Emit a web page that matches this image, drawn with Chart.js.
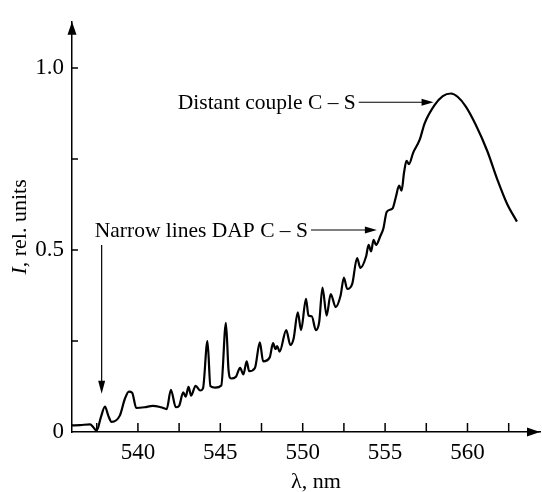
<!DOCTYPE html>
<html>
<head>
<meta charset="utf-8">
<script src="https://cdn.jsdelivr.net/npm/chart.js@4.4.1/dist/chart.umd.min.js"></script>
<style>
  html, body { margin: 0; background: #fff; }
</style>
</head>
<body>
<canvas id="spectrum" width="542" height="492"></canvas>
<script>
// spectrum: wavelength (nm) and intensity (rel. units)
const wavelength = [
  536.0, 536.5, 537.1, 537.5, 537.75, 538.0, 538.2, 538.4, 538.9, 539.2,
  539.45, 539.65, 539.9, 540.4, 540.9, 541.4, 541.75, 542.0, 542.3, 542.5,
  542.75, 542.9, 543.07, 543.23, 543.5, 543.78, 543.95, 544.22, 544.4, 544.7,
  545.06, 545.34, 545.5, 545.65, 545.95, 546.2, 546.4, 546.6, 546.75, 547.1,
  547.4, 547.6, 548.0, 548.2, 548.35, 548.45, 548.6, 549.0, 549.25, 549.45,
  549.7, 549.9, 550.2, 550.35, 550.55, 550.8, 551.0, 551.2, 551.45, 551.7,
  552.0, 552.3, 552.5, 552.7, 553.0, 553.3, 553.5, 553.85, 554.0, 554.15,
  554.3, 554.45, 554.7, 554.9, 555.1, 555.45, 555.65, 555.85, 556.0, 556.15,
  556.3, 556.45, 556.7, 557.1, 557.4, 558.0, 558.5, 559.0, 559.4, 559.9,
  560.5, 561.2, 561.8, 562.4, 563.0,
]
const intensity = [
  0.018, 0.019, 0.021, 0.004, 0.04, 0.07, 0.045, 0.028, 0.045, 0.09,
  0.111, 0.108, 0.066, 0.068, 0.072, 0.068, 0.063, 0.116, 0.068, 0.072,
  0.109, 0.097, 0.124, 0.1, 0.127, 0.114, 0.12, 0.25, 0.126, 0.122,
  0.128, 0.3, 0.17, 0.147, 0.152, 0.176, 0.158, 0.194, 0.167, 0.176,
  0.246, 0.194, 0.205, 0.244, 0.228, 0.236, 0.221, 0.28, 0.239, 0.257,
  0.329, 0.28, 0.366, 0.32, 0.318, 0.28, 0.302, 0.397, 0.32, 0.379,
  0.343, 0.375, 0.424, 0.393, 0.406, 0.478, 0.451, 0.483, 0.514, 0.496,
  0.528, 0.514, 0.537, 0.56, 0.605, 0.614, 0.645, 0.677, 0.663, 0.713,
  0.745, 0.736, 0.767, 0.803, 0.848, 0.898, 0.923, 0.93, 0.921, 0.894,
  0.844, 0.772, 0.695, 0.627, 0.578,
]

const xTicks = [537.5, 540, 542.5, 545, 547.5, 550, 552.5, 555, 557.5, 560, 562.5]
const yTicks = [0, 0.25, 0.5, 0.75, 1.0]
const yLabels = { 0: '0', 0.5: '0.5', 1: '1.0' }

// labelled arrows: text, arrow start (nm), arrow tip (nm), level (rel. units)
const noteText = ['Distant couple C \u2013 S', 'Narrow lines DAP C \u2013 S']
const noteFrom = [553.4, 550.5]
const noteTo = [557.94, 554.5]
const noteLevel = [0.906, 0.555]
// the downward arrow at the first narrow line
const dropAt = 537.8
const dropFrom = 0.514
const dropTo = 0.105

const serif = '"Liberation Serif", "DejaVu Serif", serif'

function head(ctx, tx, ty, dx, dy, len, half) {
  const bx = tx - dx * len
  const by = ty - dy * len
  ctx.beginPath()
  ctx.moveTo(tx, ty)
  ctx.lineTo(bx - dy * half, by + dx * half)
  ctx.lineTo(bx + dy * half, by - dx * half)
  ctx.closePath()
  ctx.fill()
}

const decor = {
  id: 'decor',
  afterDraw(chart) {
    const { ctx, chartArea: a, scales: { x, y } } = chart
    ctx.save()
    ctx.strokeStyle = '#000'
    ctx.fillStyle = '#000'

    // ticks point into the plot
    ctx.lineWidth = 1.5
    ctx.beginPath()
    xTicks.forEach(v => {
      const px = x.getPixelForValue(v)
      ctx.moveTo(px, a.bottom)
      ctx.lineTo(px, a.bottom - 9)
    })
    yTicks.slice(1).forEach(v => {
      const py = y.getPixelForValue(v)
      ctx.moveTo(a.left, py)
      ctx.lineTo(a.left + 6, py)
    })
    ctx.stroke()

    // axis arrows
    head(ctx, a.right, a.bottom, 1, 0, 13, 4.5)
    head(ctx, a.left, a.top, 0, -1, 13, 4.5)

    // annotations
    ctx.lineWidth = 1.2
    ctx.font = '21.5px ' + serif
    ctx.textAlign = 'right'
    ctx.textBaseline = 'middle'
    noteText.forEach((t, i) => {
      const x0 = x.getPixelForValue(noteFrom[i])
      const x1 = x.getPixelForValue(noteTo[i])
      const py = y.getPixelForValue(noteLevel[i])
      ctx.beginPath()
      ctx.moveTo(x0, py)
      ctx.lineTo(x1 - 10, py)
      ctx.stroke()
      head(ctx, x1, py, 1, 0, 12, 3.5)
      ctx.fillText(t, x0 - 3, py + 1)
    })
    const dx = x.getPixelForValue(dropAt)
    const y0 = y.getPixelForValue(dropFrom)
    const y1 = y.getPixelForValue(dropTo)
    ctx.beginPath()
    ctx.moveTo(dx, y0)
    ctx.lineTo(dx, y1 - 10)
    ctx.stroke()
    head(ctx, dx, y1, 0, 1, 13, 3.5)

    // axis titles
    ctx.textAlign = 'center'
    ctx.font = '22px ' + serif
    ctx.fillText('\u03bb, nm', x.getPixelForValue(550.8), chart.height - 10)

    ctx.translate(20, (a.top + a.bottom) / 2)
    ctx.rotate(-Math.PI / 2)
    ctx.textAlign = 'left'
    ctx.font = 'italic 22px ' + serif
    const wI = ctx.measureText('I').width
    ctx.font = '22px ' + serif
    const wRest = ctx.measureText(', rel. units').width
    const start = -(wI + wRest) / 2
    ctx.font = 'italic 22px ' + serif
    ctx.fillText('I', start, 0)
    ctx.font = '22px ' + serif
    ctx.fillText(', rel. units', start + wI, 0)
    ctx.restore()
  },
}

new Chart(document.getElementById('spectrum'), {
  type: 'line',
  data: {
    datasets: [
      {
        data: wavelength.map((w, i) => ({ x: w, y: intensity[i] })),
        borderColor: '#000',
        borderWidth: 2.2,
        pointRadius: 0,
        fill: false,
        cubicInterpolationMode: 'monotone',
      },
    ],
  },
  options: {
    responsive: false,
    animation: false,
    devicePixelRatio: 1,
    layout: { padding: { top: 15, right: 2, left: 0, bottom: 0 } },
    plugins: { legend: { display: false }, tooltip: { enabled: false } },
    scales: {
      x: {
        type: 'linear',
        min: 536,
        max: 564.4,
        afterBuildTicks: s => { s.ticks = xTicks.map(v => ({ value: v })) },
        afterFit: s => { s.height = 60 },
        grid: { display: false, drawTicks: false },
        border: { display: true, color: '#000', width: 1.5 },
        ticks: {
          autoSkip: false,
          maxRotation: 0,
          padding: 7,
          color: '#000',
          font: { family: serif, size: 23 },
          callback: v => (v % 5 === 0 ? String(v) : ''),
        },
      },
      y: {
        min: 0,
        max: 1.127,
        afterBuildTicks: s => { s.ticks = yTicks.map(v => ({ value: v })) },
        afterFit: s => { s.width = 72 },
        grid: { display: false, drawTicks: false },
        border: { display: true, color: '#000', width: 1.5 },
        ticks: {
          padding: 8,
          color: '#000',
          font: { family: serif, size: 23 },
          callback: v => yLabels[v] || '',
        },
      },
    },
  },
  plugins: [decor],
})
</script>
</body>
</html>
